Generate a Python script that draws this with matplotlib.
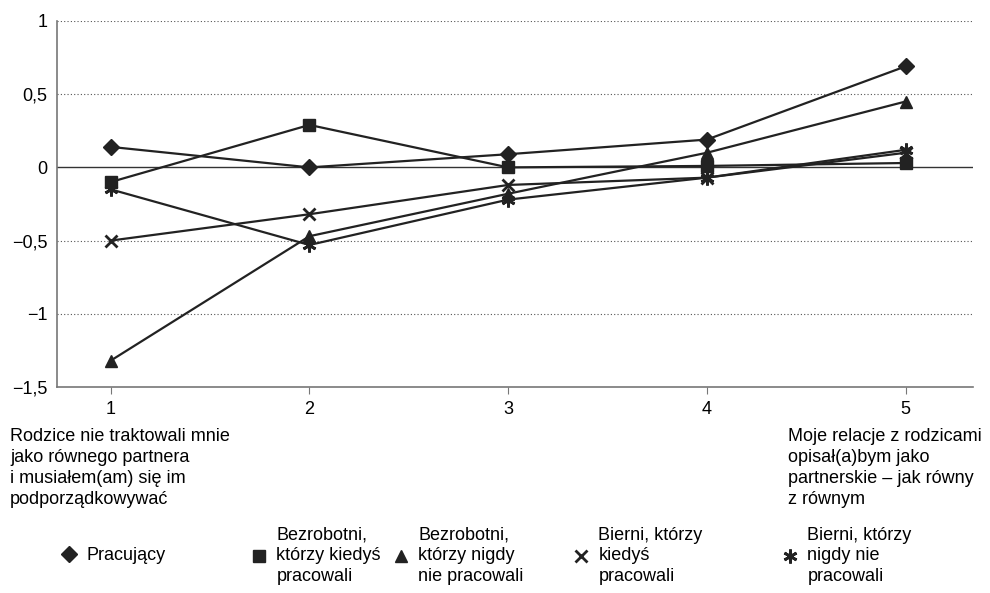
import matplotlib
matplotlib.use("Agg")
import matplotlib.pyplot as plt
from matplotlib import font_manager

names = {f.name for f in font_manager.fontManager.ttflist}
fam = [n for n in ["Liberation Sans", "DejaVu Sans"] if n in names]
plt.rcParams['font.family'] = fam

x = [1, 2, 3, 4, 5]
x_labels = ["1", "2", "3", "4", "5"]
pracujacy = [0.14, 0.0, 0.09, 0.19, 0.69]
bezr_kiedys = [-0.10, 0.29, 0.0, 0.01, 0.03]
bezr_nigdy = [-1.32, -0.47, -0.18, 0.10, 0.45]
bierni_kiedys = [-0.50, -0.32, -0.12, -0.07, 0.10]
bierni_nigdy = [-0.15, -0.53, -0.22, -0.07, 0.12]
y_ticks = [-1.5, -1, -0.5, 0, 0.5, 1]
y_tick_labels = ["\u22121,5", "\u22121", "\u22120,5", "0", "0,5", "1"]

series = [
    ("Pracujący", pracujacy, "D", 8),
    ("Bezrobotni,\nktórzy kiedyś\npracowali", bezr_kiedys, "s", 8),
    ("Bezrobotni,\nktórzy nigdy\nnie pracowali", bezr_nigdy, "^", 9),
    ("Bierni, którzy\nkiedyś\npracowali", bierni_kiedys, "x", 9),
    ("Bierni, którzy\nnigdy nie\npracowali", bierni_nigdy, (6, 2, 0), 10),
]

FS = 13
fig = plt.figure(figsize=(9.9, 5.93), dpi=100)
ax = fig.add_axes([0.0576, 0.3474, 0.983 - 0.0576, 0.9646 - 0.3474])

for y in [1, 0.5, -0.5, -1]:
    ax.axhline(y, color="#555555", lw=0.8, ls=(0, (1, 2)), zorder=1)
ax.axhline(0, color="#333333", lw=1.0, zorder=1)

handles = []
for label, vals, m, ms in series:
    mew = 2.0 if m in ("x",) or isinstance(m, tuple) else 1.0
    h, = ax.plot(x, vals, color="#222222", lw=1.6, marker=m, markersize=ms,
                 markeredgewidth=mew, markerfacecolor="#222222",
                 markeredgecolor="#222222", zorder=3, label=label)
    handles.append(h)

ax.set_xlim(0.73, 5.34)
ax.set_ylim(-1.5, 1.0)
ax.set_yticks(y_ticks)
ax.set_yticklabels(y_tick_labels)
ax.set_xticks(x)
ax.set_xticklabels(x_labels)
ax.tick_params(axis="y", length=0, pad=7, labelsize=FS)
ax.tick_params(axis="x", length=5, pad=5, labelsize=FS, color="#777777")
for s in ["top", "right"]:
    ax.spines[s].set_visible(False)
for s in ["left", "bottom"]:
    ax.spines[s].set_color("#777777")
    ax.spines[s].set_linewidth(1.2)

fig.text(10 / 990, 1 - 428 / 593,
         "Rodzice nie traktowali mnie\njako równego partnera\ni musiałem(am) się im\npodporządkowywać",
         ha="left", va="top", fontsize=FS, linespacing=1.3)
fig.text(788 / 990, 1 - 428 / 593,
         "Moje relacje z rodzicami\nopisał(a)bym jako\npartnerskie \u2013 jak równy\nz równym",
         ha="left", va="top", fontsize=FS, linespacing=1.3)

leg_x = [62, 252, 394, 574, 783]
for h, lx in zip(handles, leg_x):
    lg = fig.legend(handles=[h], labels=[h.get_label()], loc="center left",
                    bbox_to_anchor=(lx / 990, 1 - 556 / 593), frameon=False,
                    fontsize=FS, handlelength=0.8, handletextpad=0.55,
                    borderpad=0, borderaxespad=0)
    for t in lg.get_texts():
        t.set_linespacing(1.3)
    for line in lg.get_lines():
        line.set_linestyle("none")

fig.savefig("out.png", dpi=100)
